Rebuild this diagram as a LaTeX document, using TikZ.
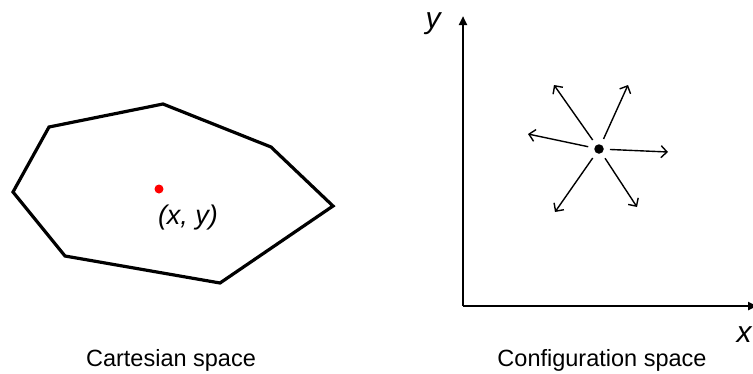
\documentclass[tikz,border=0pt]{standalone}
\usepackage{fontspec}
\setmainfont{Liberation Sans}
\usetikzlibrary{arrows.meta}
\begin{document}
\begin{tikzpicture}[x=1pt,y=-1pt,
  poly/.style={line width=3.2pt,line join=miter},
  axis/.style={line width=2.4pt,-{Triangle[length=9pt,width=8pt]}},
  ray/.style={line width=1.4pt,-{Straight Barb[length=6pt,width=12pt]},shorten <=11pt},
  caption/.style={font=\fontsize{23.5}{26}\selectfont,inner sep=0pt,anchor=base},
  axlabel/.style={font=\fontsize{30}{32}\selectfont\itshape,inner sep=0pt}]
\useasboundingbox (0,0) rectangle (753,373);
% polygon
\coordinate (p1) at (49,127);
\coordinate (p2) at (163,104);
\coordinate (p3) at (271,147);
\coordinate (p4) at (333,206);
\coordinate (p5) at (220,283);
\coordinate (p6) at (65,256);
\coordinate (p7) at (13,192);
\draw[poly] (p1) -- (p2) -- (p3) -- (p4) -- (p5) -- (p6) -- (p7) -- cycle;
\node[circle,fill=red,inner sep=0pt,minimum size=9pt] (rd) at (159,189) {};
\node[font=\fontsize{27}{30}\selectfont\itshape,inner sep=0pt] (xy) at (188,218) {(x, y)};
% axes
\coordinate (o) at (463,306);
\coordinate (ytop) at (463,16);
\coordinate (xend) at (757,306);
\draw[axis] (o) -- (ytop);
\draw[axis] (o) -- (xend);
\node[axlabel] (yl) at (433,24) {y};
\node[axlabel] (xl) at (744,335) {x};
% star
\node[circle,fill=black,inner sep=0pt,minimum size=9.5pt] (c) at (599,149) {};
\coordinate (a1) at (554,85);
\coordinate (a2) at (628,85);
\coordinate (a3) at (528,134);
\coordinate (a4) at (668,152);
\coordinate (a5) at (555,212);
\coordinate (a6) at (637,207);
\foreach \e in {a1,a2,a3,a4,a5,a6} \draw[ray] (c.center) -- (\e);
% captions
\node[caption] (cs) at (171,366) {Cartesian space};
\node[caption] (cf) at (602,366) {Configuration space};
\end{tikzpicture}
\end{document}
